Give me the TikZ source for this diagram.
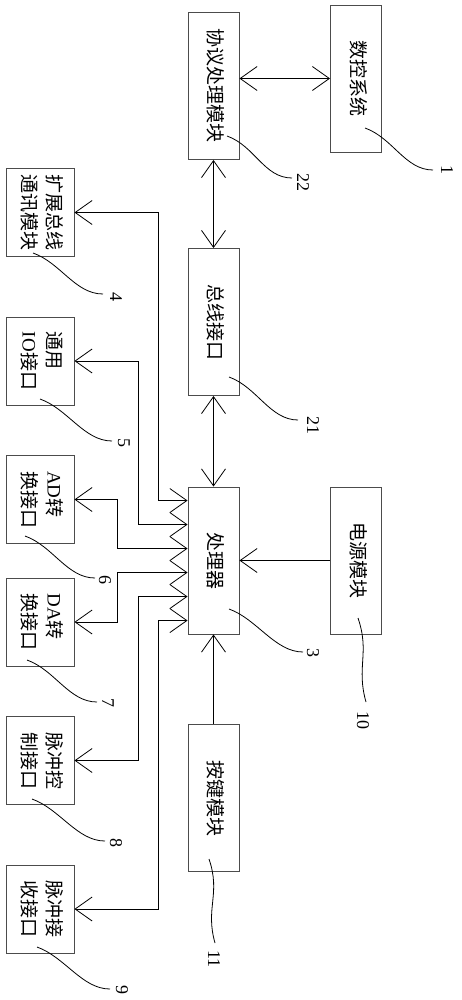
\documentclass[tikz,border=0pt]{standalone}
\usepackage{fontspec}
\usepackage{graphicx}
\setmainfont{Liberation Serif}
\newfontfamily\cjk{Noto Sans CJK SC}
\usetikzlibrary{arrows.meta, calc}
\tikzset{
  Blk/.style    = {draw=black!70, line width=0.9pt, inner sep=0pt,
                   font=\cjk\fontsize{19}{25}\selectfont},
  Unit/.style   = {Blk, minimum width=51pt, minimum height=147pt},
  Port/.style   = {Blk, minimum width=68pt, minimum height=88pt},
  Num/.style    = {rotate=-90, inner sep=0pt, font=\fontsize{18}{18}\selectfont},
  Lead/.style   = {line width=0.8pt},
  Link/.style   = {line width=0.8pt, -{Straight Barb[length=17pt, width=24pt]}},
  BiLink/.style = {Link, {Straight Barb[length=17pt, width=24pt]}-{Straight Barb[length=17pt, width=24pt]}},
}
\newcommand{\vtxt}[1]{\rotatebox{-90}{\begin{tabular}{@{}l@{}}#1\end{tabular}}}

\begin{document}
\begin{tikzpicture}[x=1pt, y=-1pt]
\useasboundingbox (0,0) rectangle (462,1000);

% ======================= middle column ===================================
\node[Unit] (proto) at (213.5, 86)    {\vtxt{协议处理模块}};
\node[Unit] (bus)   at (213.5, 322)   {\vtxt{总线接口}};
\node[Unit] (cpu)   at (213.5, 560.5) {\vtxt{处理器}};
\node[Unit] (keys)  at (213.5, 798)   {\vtxt{按键模块}};

% ======================= right column ====================================
\node[Unit] (nc)    at (356, 78.5)  {\vtxt{数控系统}};
\node[Unit] (power) at (356, 560.5) {\vtxt{电源模块}};

% ======================= left column, interfaces =========================
\node[Port] (ext)  at (40, 212.5) {\vtxt{扩展总线\\通讯模块}};
\node[Port] (io)   at (40, 361)   {\vtxt{通用\\{\rmfamily IO}接口}};
\node[Port] (ad)   at (40, 499.5) {\vtxt{{\rmfamily AD}转\\换接口}};
\node[Port] (da)   at (40, 622)   {\vtxt{{\rmfamily DA}转\\换接口}};
\node[Port] (pctl) at (40, 760.5) {\vtxt{脉冲控\\制接口}};
\node[Port] (prcv) at (40, 909)   {\vtxt{脉冲接\\收接口}};

% links
\draw[BiLink] (proto.east |- nc.west) -- (nc.west);
\draw[BiLink] (proto.south) -- (bus.north);
\draw[BiLink] (bus.south) -- (cpu.north);
\draw[Link] (power.west) -- (cpu.east);
\draw[Link] (keys.north) -- (cpu.south);
% processor to the interfaces, one entry every 24pt down its left side
\foreach \tgt/\off [count=\i from 0] in {ext/29, io/49, ad/70, da/70, pctl/49, prcv/29} {
  \coordinate (e\i) at ($(cpu.north west)+(0,14+24*\i)$);
  \draw[BiLink] (\tgt.east) -| ([xshift=-\off pt]e\i) -- (e\i);
}

% ======================= reference numbers ===============================
\foreach \nr/\s/\e/\t in {1/{365,128}/{433,170}/{447,170}, 22/{227,136}/{292,178}/{303,183},
                          4/{33,253}/{103,294}/{116,297}, 21/{229,377}/{298,420}/{313,425},
                          5/{40,399}/{112,441}/{124,443}, 6/{25,536}/{95,578}/{105,580},
                          3/{229,609}/{303,652}/{313,653}, 7/{27,660}/{97,702}/{108,703},
                          8/{32,799}/{105,841}/{116,843}, 9/{37,947}/{110,989}/{122,990}} {
  \coordinate (s\nr) at (\s);
  \coordinate (t\nr) at (\e);
  \node[Num] (n\nr) at (\t) {\nr};
  \draw[Lead] (s\nr) .. controls +(28,10) and +(-28,0) .. (t\nr);
}
% the two that hang straight down
\foreach \nr/\s/\e/\t in {10/{358,618}/{366,702}/{363,720}, 11/{209,859}/{215,943}/{214,959}} {
  \coordinate (s\nr) at (\s);
  \coordinate (t\nr) at (\e);
  \node[Num] (n\nr) at (\t) {\nr};
  \draw[Lead] (s\nr) .. controls +(12,35) and +(-10,-35) .. (t\nr);
}

\end{tikzpicture}
\end{document}
